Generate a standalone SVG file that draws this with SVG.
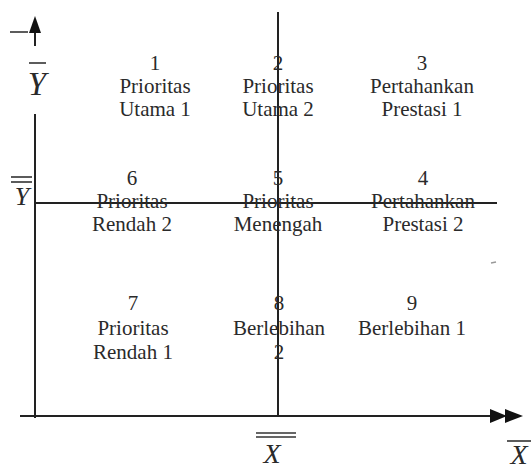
<svg xmlns="http://www.w3.org/2000/svg" width="531" height="470" viewBox="0 0 531 470">
<style>
  .lbl { font-family: "Liberation Serif", "Times New Roman", serif; font-size: 21px; fill: #2a2a2a; text-anchor: middle; }
  .ax { font-family: "Liberation Serif", "Times New Roman", serif; font-style: italic; fill: #2a2a2a; text-anchor: middle; }
  .ln { stroke: #222; stroke-width: 2; fill: none; }
  .bar { stroke: #333; stroke-width: 1.6; }
  .head { fill: #111; }
</style>
<defs>
  <clipPath id="cutTop"><rect x="0" y="0" width="40" height="46"/></clipPath>
</defs>
<rect width="531" height="470" fill="#fff"/>

<g id="connectors">
  <line class="ln" x1="35" y1="30" x2="35" y2="46"/>
  <polygon class="head" points="35,16 29,33 41,33"/>
  <line class="ln" x1="35" y1="114" x2="35" y2="418"/>
  <line class="ln" x1="20" y1="416" x2="495" y2="416"/>
  <polygon class="head" points="490,409 507,416 490,423"/>
  <polygon class="head" points="505,409 523,416 505,423"/>
  <line class="ln" x1="35" y1="203" x2="497" y2="203"/>
  <line class="ln" x1="278" y1="12" x2="278" y2="416"/>
  <line x1="491" y1="263" x2="496" y2="262" stroke="#999" stroke-width="1.5"/>
</g>

<g id="axis-labels">
  <g id="label-ybar-top" clip-path="url(#cutTop)">
    <line class="bar" x1="10" y1="32" x2="28" y2="32"/>
    <text class="ax" x="21" y="66" font-size="30">Y</text>
  </g>
  <g id="label-ybar">
    <line class="bar" x1="29" y1="63" x2="46" y2="63"/>
    <text class="ax" x="37" y="95" font-size="33">Y</text>
  </g>
  <g id="label-ydbar">
    <line class="bar" x1="11" y1="177" x2="32" y2="177"/>
    <line class="bar" x1="11" y1="182" x2="32" y2="182"/>
    <text class="ax" x="22" y="205" font-size="26">Y</text>
  </g>
  <g id="label-xdbar">
    <line class="bar" x1="256" y1="433" x2="296" y2="433"/>
    <line class="bar" x1="256" y1="437" x2="296" y2="437"/>
    <text class="ax" x="272" y="463" font-size="28">X</text>
  </g>
  <g id="label-xbar">
    <line class="bar" x1="507" y1="441" x2="531" y2="441"/>
    <text class="ax" x="519" y="464" font-size="28">X</text>
  </g>
</g>

<g id="q1"><text class="lbl" x="155" y="70">1</text><text class="lbl" x="155" y="93">Prioritas</text><text class="lbl" x="155" y="116">Utama 1</text></g>
<g id="q2"><text class="lbl" x="278" y="70">2</text><text class="lbl" x="278" y="93">Prioritas</text><text class="lbl" x="278" y="116">Utama 2</text></g>
<g id="q3"><text class="lbl" x="422" y="70">3</text><text class="lbl" x="422" y="93">Pertahankan</text><text class="lbl" x="422" y="116">Prestasi 1</text></g>
<g id="q6"><text class="lbl" x="132" y="185">6</text><text class="lbl" x="132" y="208">Prioritas</text><text class="lbl" x="132" y="231">Rendah 2</text></g>
<g id="q5"><text class="lbl" x="278" y="185">5</text><text class="lbl" x="278" y="208">Prioritas</text><text class="lbl" x="278" y="231">Menengah</text></g>
<g id="q4"><text class="lbl" x="423" y="185">4</text><text class="lbl" x="423" y="208">Pertahankan</text><text class="lbl" x="423" y="231">Prestasi 2</text></g>
<g id="q7"><text class="lbl" x="133" y="310">7</text><text class="lbl" x="133" y="335">Prioritas</text><text class="lbl" x="133" y="359">Rendah 1</text></g>
<g id="q8"><text class="lbl" x="279" y="310">8</text><text class="lbl" x="279" y="335">Berlebihan</text><text class="lbl" x="279" y="359">2</text></g>
<g id="q9"><text class="lbl" x="412" y="310">9</text><text class="lbl" x="412" y="335">Berlebihan 1</text></g>
</svg>
